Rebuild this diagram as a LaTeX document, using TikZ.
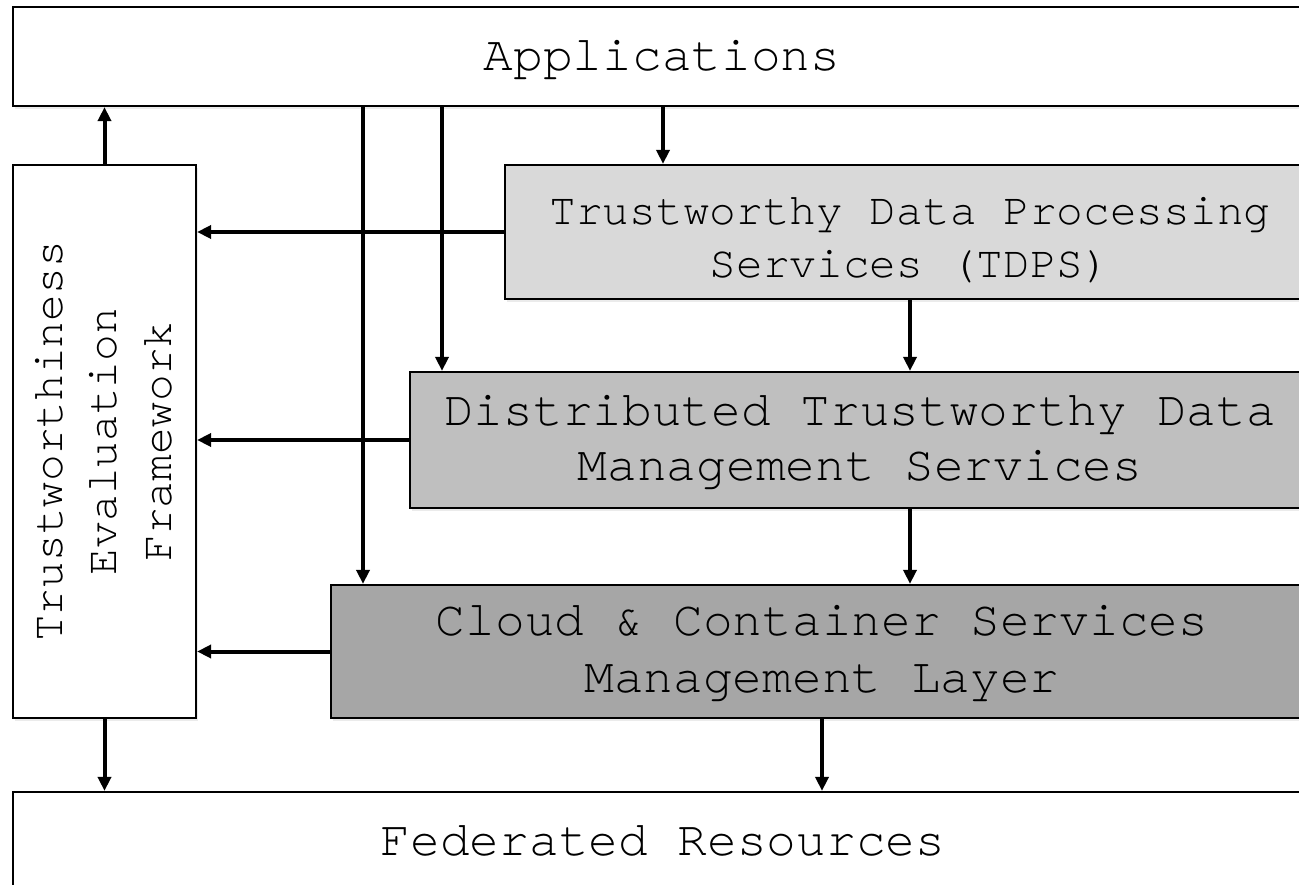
\documentclass[tikz,border=0pt]{standalone}
\usepackage{fontspec}
\setmonofont{TeX Gyre Cursor}
\usetikzlibrary{arrows.meta,shadows}
\definecolor{tdpsfill}{HTML}{D9D9D9}
\definecolor{dtdmfill}{HTML}{BFBFBF}
\definecolor{ccsmfill}{HTML}{A6A6A6}
\begin{document}
\begin{tikzpicture}[x=1pt,y=-1pt,
  layer/.style={draw=black, fill=white, line width=2.2pt, rectangle, inner sep=0pt,
    drop shadow={opacity=0.16, shadow xshift=2pt, shadow yshift=-3pt}},
  big/.style={align=center, inner sep=0pt, font=\ttfamily\fontsize{49.5}{55}\selectfont},
  small/.style={align=center, inner sep=0pt, font=\ttfamily\fontsize{44.5}{53}\selectfont},
  arr/.style={line width=4pt, -{Triangle[length=14pt,width=13pt]}}]
  \useasboundingbox (0,0) rectangle (1299,885);
  \clip (0,0) rectangle (1299,885);

  % layers of the stack
  \node[layer, minimum width=1298, minimum height=99] (app) at (662,56.5) {};
  \node[layer, fill=tdpsfill, minimum width=810, minimum height=134] (tdps) at (910,232) {};
  \node[layer, fill=dtdmfill, minimum width=900, minimum height=136] (dtdm) at (860,440) {};
  \node[layer, fill=ccsmfill, minimum width=982, minimum height=133] (ccsm) at (822,651.5) {};
  \node[layer, minimum width=1300, minimum height=98] (fed) at (663,841) {};
  \node[layer, minimum width=183, minimum height=553] (tef) at (104.5,441.5) {};

  % layer titles
  \node[big] (apptext) at ([yshift=-4pt]app.center) {Applications};
  \node[small] (tdpstext) at ([yshift=-8pt]tdps.center)
    {Trustworthy Data Processing\\Services (TDPS)};
  \node[big] (dtdmtext) at ([yshift=-2.5pt]dtdm.center)
    {Distributed Trustworthy Data\\Management Services};
  \node[big, font=\ttfamily\fontsize{49.5}{57}\selectfont] (ccsmtext) at ([yshift=-2.5pt]ccsm.center)
    {Cloud \& Container Services\\Management Layer};
  \node[big] (fedtext) at (fed.center) {Federated Resources};
  \node[small, rotate=90, font=\ttfamily\fontsize{44.5}{54.5}\selectfont]
    (teftext) at ([xshift=-1pt]tef.center) {Trustworthiness\\Evaluation\\Framework};

  % columns of the long vertical connectors
  \coordinate (colA) at (663,0);
  \coordinate (colB) at (442,0);
  \coordinate (colC) at (363,0);

  % connectors
  \draw[arr] (tef.north) -- (tef.north |- app.south);
  \draw[arr] (app.south -| colA) -- (tdps.north -| colA);
  \draw[arr] (app.south -| colB) -- (dtdm.north -| colB);
  \draw[arr] (app.south -| colC) -- (ccsm.north -| colC);
  \draw[arr] (tdps.west) -- (tdps.west -| tef.east);
  \draw[arr] (dtdm.west) -- (dtdm.west -| tef.east);
  \draw[arr] (ccsm.west) -- (ccsm.west -| tef.east);
  \draw[arr] (tdps.south) -- (tdps.south |- dtdm.north);
  \draw[arr] (dtdm.south -| tdps.south) -- (tdps.south |- ccsm.north);
  \draw[arr] (ccsm.south) -- (ccsm.south |- fed.north);
  \draw[arr] (tef.south) -- (tef.south |- fed.north);
\end{tikzpicture}
\end{document}
